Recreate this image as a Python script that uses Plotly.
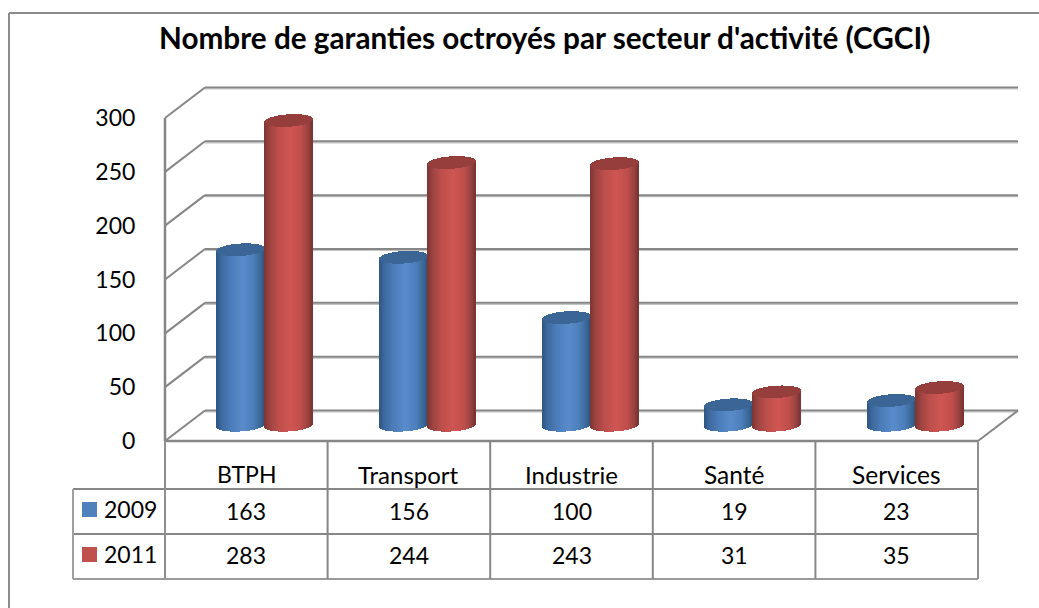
import numpy as np
import plotly.graph_objects as go

# ---------- data ----------
categories = ["BTPH", "Transport", "Industrie", "Santé", "Services"]
category_font_sizes = [23, 24, 24, 24.5, 24.5]
years = ["2009", "2011"]
values_2009 = [163, 156, 100, 19, 23]
values_2011 = [283, 244, 243, 31, 35]
y_ticks = [0, 50, 100, 150, 200, 250, 300]
title_text = "Nombre de garanties octroyés par secteur d'activité (CGCI)"

# ---------- geometry / style ----------
W, H = 1039, 608
X0, CAT_W = 165.0, 162.6          # px of first category edge, px per category
Y0, PX_PER_V = 441.0, 1.0767      # px of value 0 on the front plane, px per unit
DEPTH_X, DEPTH_Y = 40.0, 30.5     # px of the oblique wall offset
CYL_SHIFT_X, CYL_SHIFT_Y = -1.2, 0.5
R_X, R_Y, TILT = 24.0, 6.2, 1.5   # cylinder radii and ellipse tilt
FONT = "Lato"
GRID = "#868686"
BLUE_STOPS = [(-1, "#2f557f"), (-.78, "#3d6a9f"), (-.4, "#4c7dba"), (.1, "#5a8ccb"), (.55, "#4d7fbb"), (.85, "#3c6897"), (1, "#2f5580")]
RED_STOPS = [(-1, "#7a3533"), (-.78, "#9c4341"), (-.4, "#bd4f4c"), (.1, "#cf5653"), (.55, "#bf4f4c"), (.85, "#974240"), (1, "#783432")]
TOP_COLORS = ["#3b6594", "#953e3c"]


def cx(px):
    return (px - X0) / CAT_W


def vy(px):
    return (Y0 - px) / PX_PER_V


def shade(t, stops):
    ts = [s[0] for s in stops]
    rgb = [[int(s[1][i:i + 2], 16) for s in stops] for i in (1, 3, 5)]
    return "rgb(%d,%d,%d)" % tuple(np.interp(t, ts, c) for c in rgb)


fig = go.Figure()
shapes = []


def seg(x0, y0, x1, y1, color=GRID, width=2, layer="below"):
    shapes.append(dict(type="line", xref="x", yref="y", x0=x0, x1=x1, y0=y0, y1=y1,
                       line=dict(color=color, width=width), layer=layer))


# ---------- wall and floor (behind the cylinders) ----------
dxc, dyv = DEPTH_X / CAT_W, DEPTH_Y / PX_PER_V
n = len(categories)
for v in y_ticks:
    back = v + dyv
    seg(dxc, back - 1.5 / PX_PER_V, n + dxc, back - 1.5 / PX_PER_V, "#c4c4c4", 1.2)
    seg(0, v, dxc, back)
    seg(dxc, back, n + dxc, back)
seg(n, 0, n + dxc, dyv)
seg(0, 0, 0, y_ticks[-1], GRID, 2.5)
seg(0, 0, n, 0, GRID, 2.5)


# ---------- cylinders: one thin bar per pixel column ----------
def cylinder_trace(vals, side, stops, top_color, name):
    xs, bases, heights, widths, colors = [], [], [], [], []
    tops = []
    base_v = (DEPTH_Y / 2 + CYL_SHIFT_Y) / PX_PER_V
    for i, v in enumerate(vals):
        cpx = X0 + CAT_W * (i + .5) + DEPTH_X / 2 + CYL_SHIFT_X + side * R_X
        for off in np.arange(-R_X + .5, R_X, 1.0):
            t = off / R_X
            arc = R_Y * np.sqrt(max(1 - t * t, 0)) / PX_PER_V
            tilt = TILT * t / PX_PER_V
            low = base_v - arc + tilt
            hi_mid = base_v + v + tilt
            xs.append(cx(cpx + off))
            widths.append(1.3 / CAT_W)
            bases.append(low)
            heights.append(hi_mid - low)
            colors.append(shade(t, stops))
            tops.append((cx(cpx + off), hi_mid - arc, 2 * arc))
    for tx, tb, th in tops:
        xs.append(tx)
        widths.append(1.3 / CAT_W)
        bases.append(tb)
        heights.append(max(th, .5 / PX_PER_V))
        colors.append(top_color)
    return go.Bar(x=xs, y=heights, base=bases, width=widths, name=name,
                  marker=dict(color=colors, line=dict(width=0)), hoverinfo="skip", showlegend=False)


fig.add_trace(cylinder_trace(values_2009, -1, BLUE_STOPS, TOP_COLORS[0], years[0]))
fig.add_trace(cylinder_trace(values_2011, 1, RED_STOPS, TOP_COLORS[1], years[1]))


# ---------- table ----------
def pline(x0, y0, x1, y1, color=GRID, width=2):
    seg(cx(x0), vy(y0), cx(x1), vy(y1), color, width, "above")


ROWS = [489, 534, 579]
TBL_L = 73
for r in ROWS:
    pline(TBL_L, r, X0 + n * CAT_W, r, GRID if r != ROWS[-1] else "#9a9a9a", 2)
pline(TBL_L, ROWS[0], TBL_L, ROWS[-1], "#a0a0a0", 2)
for i in range(n + 1):
    xp = X0 + i * CAT_W
    pline(xp, 441, xp, ROWS[-1], GRID if 0 < i < n else "#8f8f8f", 2)
# chart frame
pline(9, 13, 9, H, "#8c8c8c", 2)
pline(9, 13, W, 13, "#8c8c8c", 2)

annotations = []


def label(px, py, text, size=23, bold=False, xanchor="center"):
    annotations.append(dict(x=cx(px), y=vy(py), xref="x", yref="y", text=("<b>%s</b>" % text) if bold else text,
                            showarrow=False, xanchor=xanchor, yanchor="middle",
                            font=dict(family=FONT, size=size, color="#000000")))


label(544, 37, title_text, size=29.7, bold=True)
for i, c in enumerate(categories):
    xc = X0 + CAT_W * (i + .5)
    label(xc, 474, c, size=category_font_sizes[i])
    label(xc, 511, str(values_2009[i]))
    label(xc, 555, str(values_2011[i]))
for yr, py, col in zip(years, (509, 554), ("#4f81bd", "#c0504d")):
    label(130, py, yr)
    shapes.append(dict(type="rect", xref="x", yref="y", x0=cx(82), x1=cx(97), y0=vy(py - 7), y1=vy(py + 8),
                       fillcolor=col, line=dict(width=0), layer="above"))

# ---------- layout ----------
fig.update_layout(
    width=W, height=H, margin=dict(l=0, r=0, t=0, b=0), autosize=False,
    paper_bgcolor="white", plot_bgcolor="white", barmode="overlay", bargap=0,
    showlegend=False, shapes=shapes, annotations=annotations,
    xaxis=dict(range=[cx(0), cx(W)], visible=False, fixedrange=True),
    yaxis=dict(range=[vy(H), vy(0)], showgrid=False, zeroline=False, showline=False, fixedrange=True,
               anchor="free", position=X0 / W, tickvals=y_ticks, ticks="outside", ticklen=25,
               tickcolor="rgba(0,0,0,0)", tickfont=dict(family=FONT, size=23, color="#000000")),
)
fig.write_html("out.html", config=dict(displayModeBar=False),
               post_script="document.body.style.margin='0';document.body.style.overflow='hidden';")
